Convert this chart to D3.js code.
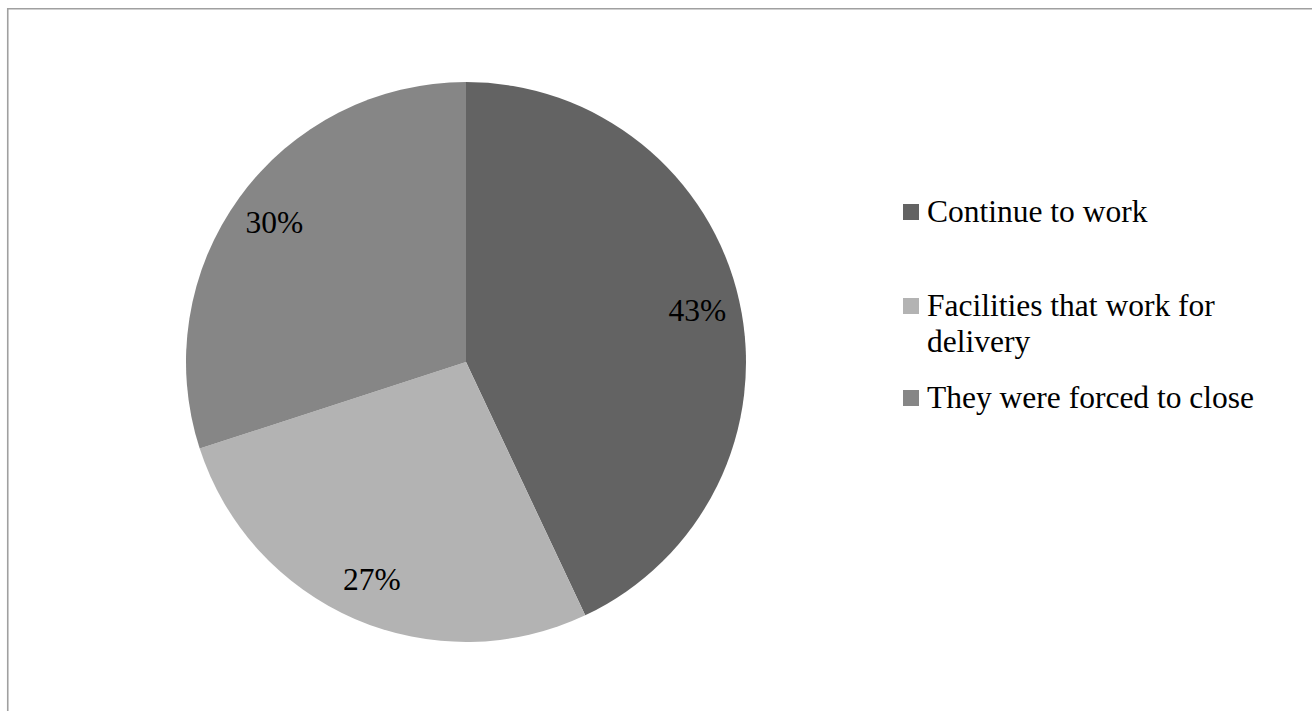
<!DOCTYPE html>
<html>
<head>
<meta charset="utf-8">
<script src="https://cdn.jsdelivr.net/npm/d3@7"></script>
<style>
html,body{margin:0;padding:0;background:#fff;overflow:hidden;}
svg{display:block;}
</style>
</head>
<body>
<svg id="chart" width="1312" height="711"></svg>
<script>
const categories = ["Continue to work", "Facilities that work for delivery", "They were forced to close"];
const values = [43, 27, 30];
const valueLabels = ["43%", "27%", "30%"];
const colors = ["#636363", "#b3b3b3", "#868686"];
const legendLines = [["Continue to work"], ["Facilities that work for", "delivery"], ["They were forced to close"]];

const svg = d3.select("#chart");
const font = "'Liberation Serif','Times New Roman',serif";

// chart frame
svg.append("path")
  .attr("d", "M7.75,720 L7.75,8.75 L1320,8.75")
  .attr("fill", "none").attr("stroke", "#a0a0a0").attr("stroke-width", 1.6);

const cx = 466, cy = 362, r = 280;
const pie = d3.pie().sort(null).value(d => d)(values);
const arc = d3.arc().innerRadius(0).outerRadius(r);
const labelArc = d3.arc().innerRadius(237).outerRadius(237);

const g = svg.append("g").attr("transform", `translate(${cx},${cy})`);
g.selectAll("path.slice").data(pie).enter().append("path")
  .attr("class", "slice")
  .attr("d", arc)
  .attr("fill", (d, i) => colors[i]);

g.selectAll("text.lbl").data(pie).enter().append("text")
  .attr("class", "lbl")
  .attr("x", d => labelArc.centroid(d)[0])
  .attr("y", d => labelArc.centroid(d)[1] + 10.5)
  .attr("text-anchor", "middle")
  .attr("font-family", font)
  .attr("font-size", "31.5px")
  .attr("fill", "#000")
  .text((d, i) => valueLabels[i]);

// legend
const baselines = [[222], [316, 352], [408]];
const lg = svg.append("g");
categories.forEach((c, i) => {
  lg.append("rect")
    .attr("x", 903).attr("y", baselines[i][0] - 18)
    .attr("width", 16).attr("height", 16)
    .attr("fill", colors[i]);
  legendLines[i].forEach((line, j) => {
    lg.append("text")
      .attr("x", 927).attr("y", baselines[i][j])
      .attr("font-family", font)
      .attr("font-size", "31.5px")
      .attr("fill", "#000")
      .text(line);
  });
});
</script>
</body>
</html>
